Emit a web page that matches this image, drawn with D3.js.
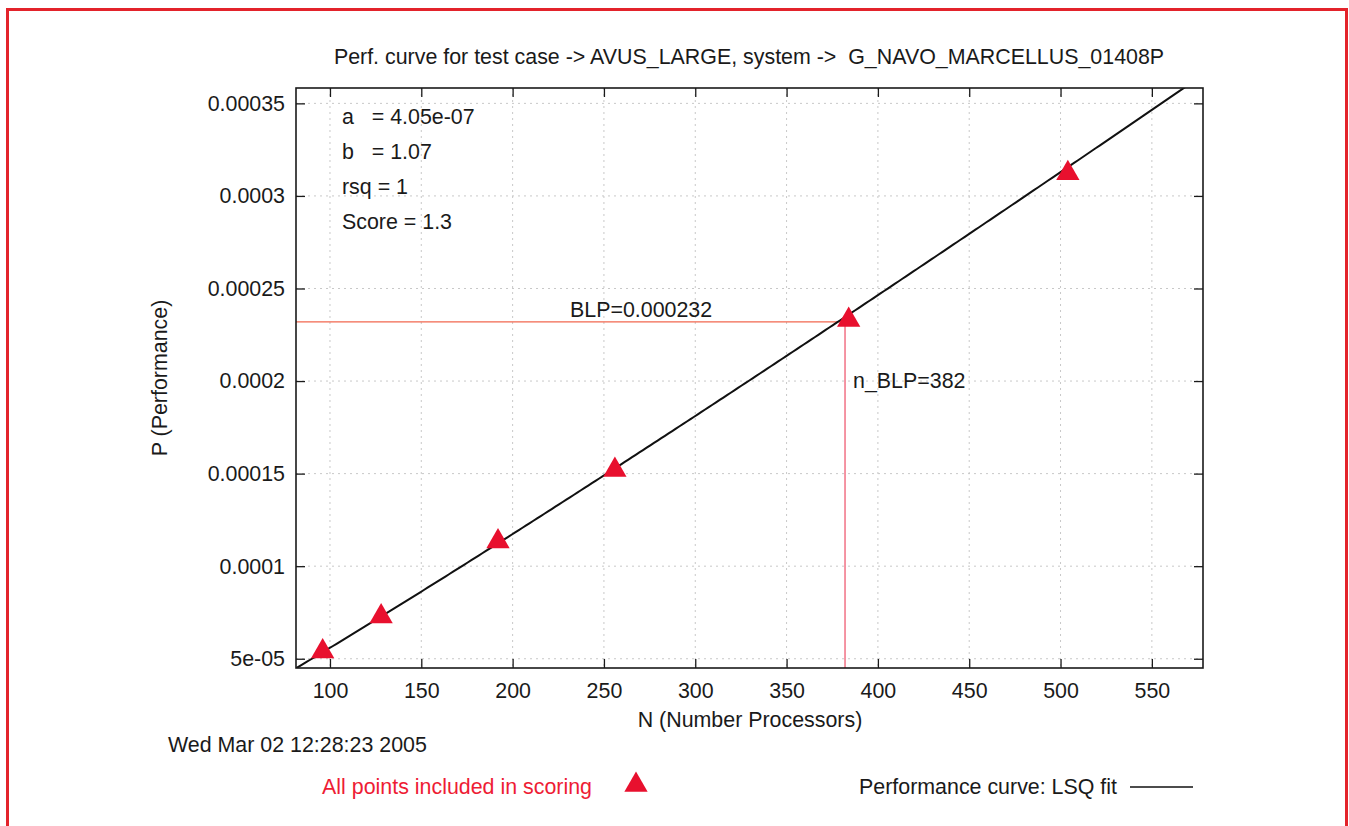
<!DOCTYPE html>
<html>
<head>
<meta charset="utf-8">
<title>Perf. curve AVUS_LARGE</title>
<script src="https://cdn.jsdelivr.net/npm/d3@7"></script>
<style>
  html, body { margin: 0; padding: 0; background: #fff; }
  text { font-family: "Liberation Sans", Arial, Helvetica, sans-serif; font-size: 21.4px; fill: #1a1a1a; }
  .tick line { stroke: #1a1a1a; stroke-width: 1.3; }
  .grid line { stroke: #c8c8c8; stroke-width: 1; stroke-dasharray: 2,4; }
</style>
</head>
<body>
<div id="chart-area"></div>
<script>
// measured runs: processors vs performance
const procs = [96, 128, 192, 256, 384, 504];
const perf = [5.39e-5, 7.28e-5, 1.133e-4, 1.52e-4, 2.33e-4, 3.123e-4];

// least squares fit P = a * N^b
const fitA = 4.05e-7;
const fitB = 1.07;
const fitLabels = ["a   = 4.05e-07", "b   = 1.07", "rsq = 1", "Score = 1.3"];

// balanced level point
const blp = 0.000232;
const nBlp = 382;

const xTicks = [100, 150, 200, 250, 300, 350, 400, 450, 500, 550];
const yTicks = [5e-5, 1e-4, 1.5e-4, 2e-4, 2.5e-4, 3e-4, 3.5e-4];
const yTickLabels = ["5e-05", "0.0001", "0.00015", "0.0002", "0.00025", "0.0003", "0.00035"];

const W = 1349, H = 826;
const margin = { left: 296, right: 146, top: 88, bottom: 158 };
const width = W - margin.left - margin.right,
  height = H - margin.top - margin.bottom;

const svg = d3.select("#chart-area")
  .append("svg")
  .attr("width", W)
  .attr("height", H);

// red frame round the page
svg.append("rect")
  .attr("x", 7.5).attr("y", 9.5)
  .attr("width", 1339).attr("height", 840)
  .attr("fill", "none")
  .attr("stroke", "#e3232b")
  .attr("stroke-width", 3);

const g = svg.append("g")
  .attr("transform", "translate(" + margin.left + ", " + margin.top + ")");

const x = d3.scaleLinear()
  .domain([81.4, 578])
  .range([0, width]);

const y = d3.scaleLinear()
  .domain([4.5e-5, 3.583e-4])
  .range([height, 0]);

// dotted grid
g.append("g")
  .attr("class", "grid")
  .selectAll("line")
  .data(xTicks)
  .enter()
  .append("line")
  .attr("x1", (d) => x(d)).attr("x2", (d) => x(d))
  .attr("y1", 0).attr("y2", height);

g.append("g")
  .attr("class", "grid")
  .selectAll("line")
  .data(yTicks)
  .enter()
  .append("line")
  .attr("x1", 0).attr("x2", width)
  .attr("y1", (d) => y(d)).attr("y2", (d) => y(d));

// axes, ticks pointing inwards on all four sides
const xAxisCall = d3.axisBottom(x)
  .tickValues(xTicks)
  .tickSizeInner(-9)
  .tickSizeOuter(0)
  .tickPadding(15)
  .tickFormat(d3.format("d"));
g.append("g")
  .attr("class", "x axis")
  .attr("transform", "translate(0, " + height + ")")
  .call(xAxisCall);

g.append("g")
  .attr("class", "x axis-top")
  .call(d3.axisTop(x).tickValues(xTicks).tickSizeInner(-9).tickSizeOuter(0).tickFormat(""));

const yAxisCall = d3.axisLeft(y)
  .tickValues(yTicks)
  .tickSizeInner(-9)
  .tickSizeOuter(0)
  .tickPadding(11)
  .tickFormat((d, i) => yTickLabels[i]);
g.append("g")
  .attr("class", "y axis")
  .call(yAxisCall);

g.append("g")
  .attr("class", "y axis-right")
  .attr("transform", "translate(" + width + ", 0)")
  .call(d3.axisRight(y).tickValues(yTicks).tickSizeInner(-9).tickSizeOuter(0).tickFormat(""));

g.selectAll(".domain").remove();
g.selectAll(".tick text").style("font-size", "21.4px").attr("fill", "#1a1a1a");

// BLP guide lines
g.append("line")
  .attr("x1", 0).attr("x2", x(nBlp))
  .attr("y1", y(blp)).attr("y2", y(blp))
  .attr("stroke", "#f2674f").attr("stroke-width", 1.2);
g.append("line")
  .attr("x1", x(nBlp)).attr("x2", x(nBlp))
  .attr("y1", y(blp)).attr("y2", height)
  .attr("stroke", "#ee4e66").attr("stroke-width", 1.2);

g.append("text")
  .attr("x", x(nBlp) - 275).attr("y", y(blp) - 5)
  .text("BLP=" + blp);
g.append("text")
  .attr("x", x(nBlp) + 8).attr("y", y(blp) + 66)
  .text("n_BLP=" + nBlp);

// fit curve, clipped to the plot
g.append("clipPath")
  .attr("id", "plot-clip")
  .append("rect")
  .attr("width", width).attr("height", height);

const curveN = d3.range(x.domain()[0], x.domain()[1], 2);
const line = d3.line()
  .x((d) => x(d))
  .y((d) => y(fitA * Math.pow(d, fitB)));
g.append("path")
  .datum(curveN)
  .attr("clip-path", "url(#plot-clip)")
  .attr("d", line)
  .attr("fill", "none")
  .attr("stroke", "#111")
  .attr("stroke-width", 2);

// data points
const tri = d3.symbol(d3.symbolTriangle, 235);
g.selectAll(".pt")
  .data(procs)
  .enter()
  .append("path")
  .attr("class", "pt")
  .attr("d", tri)
  .attr("transform", (d, i) => "translate(" + x(d) + "," + y(perf[i]) + ")")
  .attr("fill", "#e8102e");

// plot border
g.append("rect")
  .attr("width", width).attr("height", height)
  .attr("fill", "none")
  .attr("stroke", "#1a1a1a")
  .attr("stroke-width", 1.6);

// fit parameters block
g.selectAll(".fit-label")
  .data(fitLabels)
  .enter()
  .append("text")
  .attr("class", "fit-label")
  .attr("x", 46)
  .attr("y", (d, i) => 36 + i * 35)
  .style("white-space", "pre")
  .text((d) => d);

// titles
svg.append("text")
  .attr("x", 749).attr("y", 64)
  .attr("text-anchor", "middle")
  .style("white-space", "pre")
  .text("Perf. curve for test case -> AVUS_LARGE, system ->  G_NAVO_MARCELLUS_01408P");

svg.append("text")
  .attr("x", 750).attr("y", 727)
  .attr("text-anchor", "middle")
  .text("N (Number Processors)");

svg.append("text")
  .attr("transform", "translate(167, 378) rotate(-90)")
  .attr("text-anchor", "middle")
  .text("P (Performance)");

svg.append("text")
  .attr("x", 168).attr("y", 752)
  .text("Wed Mar 02 12:28:23 2005");

// key
svg.append("text")
  .attr("x", 592).attr("y", 794)
  .attr("text-anchor", "end")
  .style("fill", "#ee1c34")
  .text("All points included in scoring");
svg.append("path")
  .attr("d", tri)
  .attr("transform", "translate(636, 785)")
  .attr("fill", "#e8102e");

svg.append("text")
  .attr("x", 1117).attr("y", 794)
  .attr("text-anchor", "end")
  .text("Performance curve: LSQ fit");
svg.append("line")
  .attr("x1", 1130).attr("x2", 1193)
  .attr("y1", 787).attr("y2", 787)
  .attr("stroke", "#111").attr("stroke-width", 1.6);
</script>
</body>
</html>
